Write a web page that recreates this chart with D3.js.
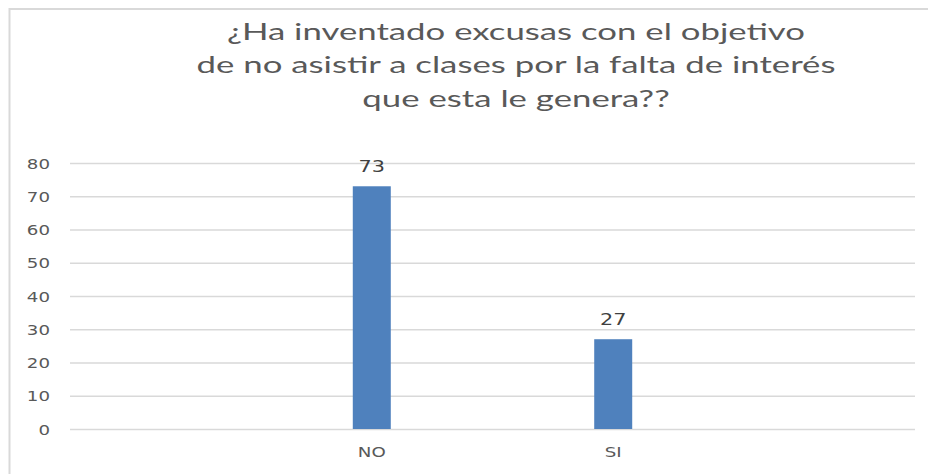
<!DOCTYPE html>
<html>
<head>
<meta charset="utf-8">
<script src="https://cdn.jsdelivr.net/npm/d3@7"></script>
<style>
  html, body { margin: 0; padding: 0; background: #fff; }
  svg { display: block; }
</style>
</head>
<body>
<svg id="chart" width="928" height="474"></svg>
<script>
const titleLines = [
  "¿Ha inventado excusas con el objetivo",
  "de no asistir a clases por la falta de interés",
  "que esta le genera??"
];
const categories = ["NO", "SI"];
const values = [73, 27];
const yTicks = [0, 10, 20, 30, 40, 50, 60, 70, 80];

const W = 928, H = 474;
const plot = { left: 70, right: 915, top: 163, bottom: 429 };
const stretch = 1.3;

const svg = d3.select("#chart");

// outer frame
svg.append("rect")
  .attr("x", 9.5).attr("y", 9)
  .attr("width", W + 20).attr("height", H + 20)
  .attr("fill", "#fff")
  .attr("stroke", "#d9d9d9").attr("stroke-width", 2);

const y = d3.scaleLinear().domain([0, 80]).range([plot.bottom, plot.top]);
const x = d3.scalePoint().domain(categories).range([plot.left, plot.right]).padding(1.25);
const barW = 38;

// y axis with gridlines
const yAxis = svg.append("g")
  .attr("transform", `translate(${plot.left},0)`)
  .call(d3.axisLeft(y).tickValues(yTicks).tickSize(-(plot.right - plot.left)).tickFormat(d3.format("d")));
yAxis.select(".domain").remove();
yAxis.selectAll(".tick line").attr("stroke", "#d9d9d9").attr("stroke-width", 1.5);
yAxis.selectAll(".tick text")
  .attr("x", 0).attr("dy", "0.36em")
  .attr("transform", `translate(-20,0) scale(${stretch},1)`)
  .attr("fill", "#595959")
  .style("font-family", "'DejaVu Sans', sans-serif")
  .style("font-size", "14px")
  .attr("text-anchor", "end");

// bars
svg.append("g").selectAll("rect")
  .data(categories)
  .join("rect")
  .attr("x", (d) => x(d) - barW / 2)
  .attr("width", barW)
  .attr("y", (d, i) => y(values[i]))
  .attr("height", (d, i) => y(0) - y(values[i]))
  .attr("fill", "#4f81bd");

// value labels
svg.append("g").selectAll("text")
  .data(categories)
  .join("text")
  .attr("transform", (d, i) => `translate(${x(d)},${y(values[i]) - 14}) scale(${stretch},1)`)
  .attr("text-anchor", "middle")
  .attr("fill", "#404040")
  .style("font-family", "'DejaVu Sans', sans-serif")
  .style("font-size", "16px")
  .text((d, i) => values[i]);

// category labels
svg.append("g").selectAll("text")
  .data(categories)
  .join("text")
  .attr("transform", (d) => `translate(${x(d)},${plot.bottom + 28}) scale(${stretch},1)`)
  .attr("text-anchor", "middle")
  .attr("fill", "#595959")
  .style("font-family", "'DejaVu Sans', sans-serif")
  .style("font-size", "14px")
  .text((d) => d);

// title
const titleG = svg.append("g");
const tEls = titleG.selectAll("text")
  .data(titleLines)
  .join("text")
  .attr("x", 0)
  .attr("y", (d, i) => 40 + i * 33.5)
  .attr("text-anchor", "middle")
  .attr("fill", "#595959")
  .style("font-family", "Lato, 'Open Sans', sans-serif")
  .style("font-size", "24px")
  .text((d) => d);
const w2 = tEls.nodes()[1].getComputedTextLength();
const sx = 639 / w2;
titleG.attr("transform", `translate(516,0) scale(${sx},1)`);
</script>
</body>
</html>
